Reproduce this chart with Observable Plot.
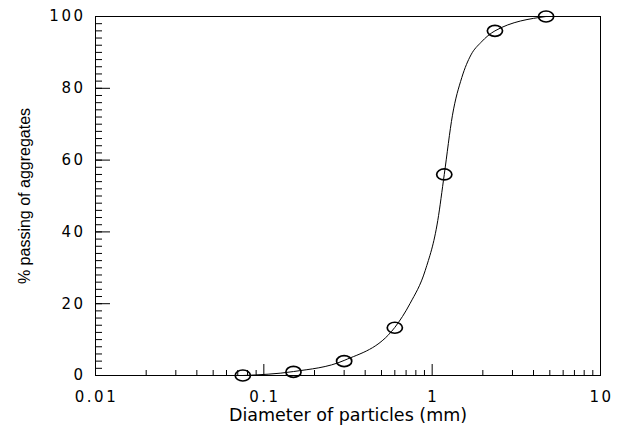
<!DOCTYPE html>
<html>
<head>
<meta charset="utf-8">
<script src="https://cdn.jsdelivr.net/npm/d3@7"></script>
<script src="https://cdn.jsdelivr.net/npm/@observablehq/plot@0.6"></script>
<style>
  html, body { margin: 0; padding: 0; background: #fff; }
  #chart svg text { fill: #000; }
  #chart svg g[aria-label="x-axis tick label"] text,
  #chart svg g[aria-label="y-axis tick label"] text { letter-spacing: 2.5px; }
</style>
</head>
<body>
<div id="chart"></div>
<script>
// Sieve sizes (mm) and % passing (measured points)
const diameters = [0.075, 0.15, 0.3, 0.6, 1.18, 2.36, 4.75];
const passing   = [0, 1, 4, 13.3, 56, 96, 100];

// Fitted gradation curve
const curveD = [0.075, 0.15, 0.3, 0.6, 0.74, 0.91, 1.08, 1.18, 1.32, 1.5, 1.7, 1.95, 2.36, 4.75];
const curveP = [0, 1.1, 4.2, 13.4, 20.1, 29.3, 43.2, 56, 72.5, 83, 89.3, 92.8, 96, 100];

const xTicks = [0.01, 0.1, 1, 10];
const xTickLabels = ["0.01", "0.1", "1", "10"];
const yTicks = [0, 20, 40, 60, 80, 100];
const xMinorTicks = xTicks.slice(0, -1).flatMap(d => d3.range(2, 10).map(m => m * d));
const yMinorTicks = d3.range(0, 101, 2);

const xTitle = "Diameter of particles (mm)";
const yTitle = "% passing of aggregates";

const points = diameters.map((d, i) => ({d, p: passing[i]}));
const curve = curveD.map((d, i) => ({d, p: curveP[i]}));

const ellipse = {
  draw(ctx, size) {
    const r = Math.sqrt(size / Math.PI);
    const rx = r * 1.38, ry = r;
    const k = 0.5523;
    ctx.moveTo(rx, 0);
    ctx.bezierCurveTo(rx, ry * k, rx * k, ry, 0, ry);
    ctx.bezierCurveTo(-rx * k, ry, -rx, ry * k, -rx, 0);
    ctx.bezierCurveTo(-rx, -ry * k, -rx * k, -ry, 0, -ry);
    ctx.bezierCurveTo(rx * k, -ry, rx, -ry * k, rx, 0);
    ctx.closePath();
  }
};

const tickFont = {fontFamily: "'DejaVu Sans', sans-serif", fontSize: 15};

const chart = Plot.plot({
  width: 620,
  height: 425,
  marginLeft: 95,
  marginRight: 20,
  marginTop: 16,
  marginBottom: 50,
  style: {fontFamily: "'DejaVu Sans', sans-serif", color: "#000", background: "#fff"},
  x: {type: "log", domain: [0.01, 10]},
  y: {domain: [0, 100]},
  marks: [
    Plot.frame({stroke: "#000", strokeWidth: 1}),
    // tick labels
    Plot.axisX(xTicks, {...tickFont, tickSize: 0, tickPadding: 16, dx: 1, tickFormat: d => xTickLabels[xTicks.indexOf(d)], label: null}),
    Plot.axisY(yTicks, {...tickFont, tickSize: 0, tickPadding: 10, tickFormat: d => String(d), label: null}),
    // inward ticks
    Plot.axisX(xTicks, {tickSize: -11, text: null, label: null, strokeWidth: 1}),
    Plot.axisX(xMinorTicks, {tickSize: -5, text: null, label: null, strokeWidth: 1}),
    Plot.axisY(yTicks, {tickSize: -15, text: null, label: null, strokeWidth: 1}),
    Plot.axisY(yMinorTicks, {tickSize: -7, text: null, label: null, strokeWidth: 1}),
    // titles
    Plot.text([xTitle], {frameAnchor: "bottom", textAnchor: "middle", lineAnchor: "middle", dy: 40, fontFamily: "'DejaVu Sans', sans-serif", fontSize: 17.5, text: d => d}),
    Plot.text([yTitle], {frameAnchor: "left", textAnchor: "middle", lineAnchor: "middle", dx: -71, rotate: -90, fontFamily: "'Liberation Sans', Arial, sans-serif", fontSize: 16, text: d => d}),
    // curve
    Plot.line(curve, {x: "d", y: "p", curve: "monotone-x", stroke: "#000", strokeWidth: 1}),
    Plot.dot(points, {x: "d", y: "p", r: 5.5, symbol: ellipse, stroke: "#000", strokeWidth: 1.7, fill: "none"})
  ]
});
document.getElementById("chart").appendChild(chart);
</script>
</body>
</html>
